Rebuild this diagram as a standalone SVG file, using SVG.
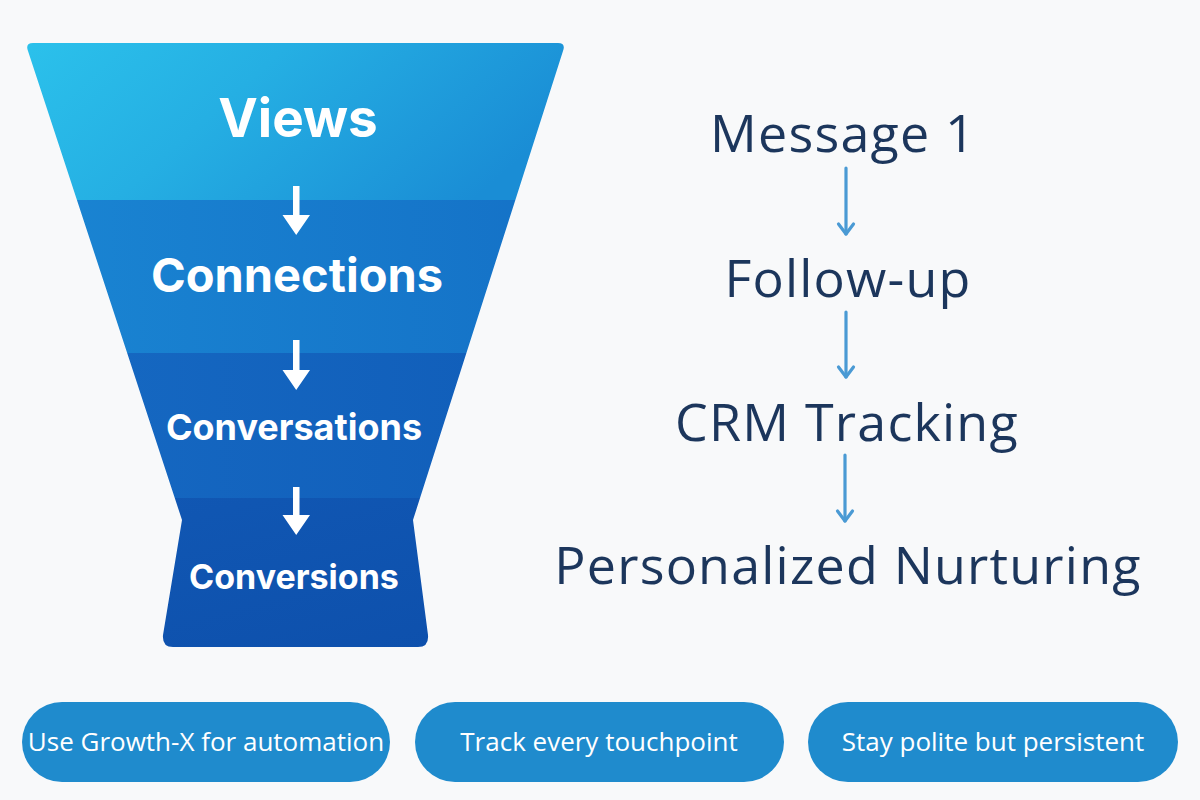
<svg xmlns="http://www.w3.org/2000/svg" width="1200" height="800" viewBox="0 0 1200 800">
  <defs>
    <linearGradient id="g1" x1="0" y1="0" x2="1" y2="0.3">
      <stop offset="0" stop-color="#2cc3ec"/>
      <stop offset="0.45" stop-color="#25afe3"/>
      <stop offset="1" stop-color="#1a8dd5"/>
    </linearGradient>
    <linearGradient id="g2" x1="0" y1="0" x2="1" y2="0">
      <stop offset="0" stop-color="#1a86d3"/>
      <stop offset="1" stop-color="#1470c6"/>
    </linearGradient>
    <linearGradient id="g3" x1="0" y1="0" x2="1" y2="0">
      <stop offset="0" stop-color="#166ac3"/>
      <stop offset="1" stop-color="#105cb8"/>
    </linearGradient>
    <linearGradient id="g4" x1="0" y1="0" x2="1" y2="1">
      <stop offset="0" stop-color="#1158b4"/>
      <stop offset="1" stop-color="#0d4fab"/>
    </linearGradient>
    <clipPath id="funnelClip">
      <path d="M33,43 L558,43 Q566,43 563,51 L413,520 L428,635 Q429,647 418,647 L173,647 Q162,647 163,635 L182,520 L28,51 Q25,43 33,43 Z"/>
    </clipPath>
  </defs>
  <style>
    .stage { font-family: Inter, "Liberation Sans", sans-serif; font-weight: 700; fill: #ffffff; text-anchor: middle; }
    .step { font-family: "Open Sans", "Noto Sans", sans-serif; font-weight: 400; fill: #1c365c; text-anchor: middle; font-size: 52px; letter-spacing: 1.2px; }
    .pill { fill: #1f8bcd; }
    .pilltext { font-family: "Open Sans", "Noto Sans", sans-serif; font-size: 26px; fill: #ffffff; text-anchor: middle; }
    .warrow { fill: #ffffff; }
    .conn { stroke: #4a9ad4; stroke-width: 3.2; fill: none; stroke-linecap: round; }
    .head { stroke: #4a9ad4; stroke-width: 3.2; fill: none; stroke-linecap: round; stroke-linejoin: round; }
  </style>
  <rect width="1200" height="800" fill="#f8f9fa"/>

  <g id="funnel">
    <g clip-path="url(#funnelClip)">
      <rect x="0" y="40" width="600" height="160" fill="url(#g1)"/>
      <rect x="0" y="200" width="600" height="153" fill="url(#g2)"/>
      <rect x="0" y="353" width="600" height="145" fill="url(#g3)"/>
      <rect x="0" y="498" width="600" height="152" fill="url(#g4)"/>
    </g>
  </g>

  <g id="node-views">
    <text class="stage" x="298" y="137" font-size="53">Views</text>
  </g>
  <g id="node-connections">
    <text class="stage" x="297" y="292" font-size="47">Connections</text>
  </g>
  <g id="node-conversations">
    <text class="stage" x="294" y="440" font-size="36">Conversations</text>
  </g>
  <g id="node-conversions">
    <text class="stage" x="294" y="589" font-size="34">Conversions</text>
  </g>

  <g id="node-message1"><text class="step" x="843" y="152">Message 1</text></g>
  <g id="node-followup"><text class="step" x="848" y="297">Follow-up</text></g>
  <g id="node-crm"><text class="step" x="847" y="441">CRM Tracking</text></g>
  <g id="node-nurturing"><text class="step" x="848" y="584">Personalized Nurturing</text></g>

  <g id="connectors">
    <g id="funnel-arrows">
      <path class="warrow" d="M293,186 L299.5,186 L299.5,215 L310,215 L296.2,235 L282.5,215 L293,215 Z"/>
      <path class="warrow" d="M293,340 L299.5,340 L299.5,370 L310,370 L296.2,390 L282.5,370 L293,370 Z"/>
      <path class="warrow" d="M293,487 L299.5,487 L299.5,515 L310,515 L296.2,535 L282.5,515 L293,515 Z"/>
    </g>
    <g id="step-arrows">
      <line class="conn" x1="846" y1="168" x2="846" y2="234"/>
      <path class="head" d="M838.5,224 L846,234 L853.5,224"/>
      <line class="conn" x1="846" y1="312" x2="846" y2="377"/>
      <path class="head" d="M838.5,367 L846,377 L853.5,367"/>
      <line class="conn" x1="845" y1="455" x2="845" y2="521"/>
      <path class="head" d="M837.5,511 L845,521 L852.5,511"/>
    </g>
  </g>

  <g id="tip-automation">
    <rect class="pill" x="22" y="702" width="368" height="80" rx="40"/>
    <text class="pilltext" x="206" y="751">Use Growth-X for automation</text>
  </g>
  <g id="tip-track">
    <rect class="pill" x="415" y="702" width="369" height="80" rx="40"/>
    <text class="pilltext" x="599" y="751">Track every touchpoint</text>
  </g>
  <g id="tip-polite">
    <rect class="pill" x="808" y="702" width="370" height="80" rx="40"/>
    <text class="pilltext" x="993" y="751">Stay polite but persistent</text>
  </g>
</svg>
